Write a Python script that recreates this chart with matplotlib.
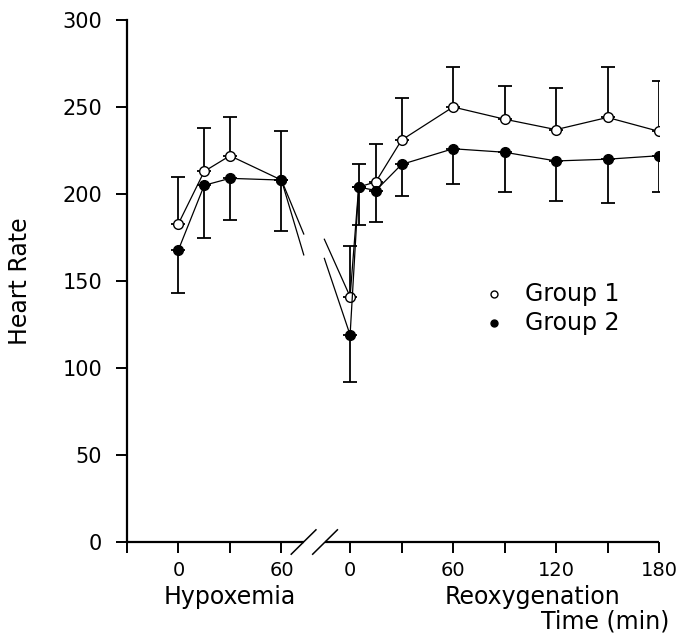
import matplotlib
matplotlib.use("Agg")
import matplotlib.pyplot as plt
import matplotlib.transforms as mtransforms

# ---- data ----
hyp_time = [0, 15, 30, 60]
g1_hyp = [183, 213, 222, 208]
g1_hyp_err = [27, 25, 22, 28]
g2_hyp = [168, 205, 209, 208]
g2_hyp_err = [25, 30, 24, 29]

reox_time = [0, 5, 15, 30, 60, 90, 120, 150, 180]
g1_reox = [141, 204, 207, 231, 250, 243, 237, 244, 236]
g1_reox_err = [29, 13, 22, 24, 23, 19, 24, 29, 29]
g2_reox = [119, 204, 202, 217, 226, 224, 219, 220, 222]
g2_reox_err = [27, 22, 18, 18, 20, 23, 23, 25, 21]

# transition stubs on either side of the axis break
stub_hyp_time = 73
stub_reox_time = -15
g1_stub = [177, 174]
g2_stub = [165, 163]

hyp_ticks = [-30, 0, 30, 60]
hyp_ticklabels = ["", "0", "", "60"]
reox_ticks = [0, 30, 60, 90, 120, 150, 180]
reox_ticklabels = ["0", "", "60", "", "120", "", "180"]
y_ticks = [0, 50, 100, 150, 200, 250, 300]

REOX_OFFSET = 100  # plot position of reoxygenation time 0

plt.rcParams['font.family'] = ['DejaVu Sans']
fig = plt.figure(figsize=(6.77, 6.4), dpi=100)
ax = fig.add_axes([0.1876, 0.1531, 0.9734 - 0.1876, 0.96875 - 0.1531])

rx = [t + REOX_OFFSET for t in reox_time]
lw = 0.9
ms = 7

# connecting stubs
ax.plot([hyp_time[-1], stub_hyp_time], [g1_hyp[-1], g1_stub[0]], color='k', lw=lw)
ax.plot([hyp_time[-1], stub_hyp_time], [g2_hyp[-1], g2_stub[0]], color='k', lw=lw)
ax.plot([stub_reox_time + REOX_OFFSET, rx[0]], [g1_stub[1], g1_reox[0]], color='k', lw=lw)
ax.plot([stub_reox_time + REOX_OFFSET, rx[0]], [g2_stub[1], g2_reox[0]], color='k', lw=lw)

# error bars (group 1 upward, group 2 downward)
ekw = dict(fmt='none', ecolor='k', elinewidth=1.3, capsize=5, capthick=1.3)
ax.errorbar(hyp_time, g1_hyp, yerr=[[0]*4, g1_hyp_err], **ekw)
ax.errorbar(hyp_time, g2_hyp, yerr=[g2_hyp_err, [0]*4], **ekw)
ax.errorbar(rx, g1_reox, yerr=[[0]*9, g1_reox_err], **ekw)
ax.errorbar(rx, g2_reox, yerr=[g2_reox_err, [0]*9], **ekw)

# lines and markers
ax.plot(hyp_time, g1_hyp, color='k', lw=lw, marker='o', ms=ms, mfc='white', mec='k', mew=1.0, zorder=3)
ax.plot(hyp_time, g2_hyp, color='k', lw=lw, marker='o', ms=ms, mfc='k', mec='k', zorder=4)
ax.plot(rx, g1_reox, color='k', lw=lw, marker='o', ms=ms, mfc='white', mec='k', mew=1.0, zorder=3)
ax.plot(rx, g2_reox, color='k', lw=lw, marker='o', ms=ms, mfc='k', mec='k', zorder=4)

ax.set_xlim(-30, 180 + REOX_OFFSET)
ax.set_ylim(0, 300)

for s in ['top', 'right', 'bottom']:
    ax.spines[s].set_visible(False)
ax.spines['left'].set_linewidth(1.6)

# broken x axis
brk1, brk2 = 72.9, 85.4
ax.plot([-30, brk1], [0, 0], color='k', lw=1.6, clip_on=False, solid_capstyle='butt')
ax.plot([brk2, 180 + REOX_OFFSET], [0, 0], color='k', lw=1.6, clip_on=False, solid_capstyle='butt')
for xb in (brk1, brk2):
    ax.plot([xb - 7.2, xb + 7.2], [-7, 7], color='k', lw=1.1, clip_on=False)

ax.set_xticks(hyp_ticks + [t + REOX_OFFSET for t in reox_ticks])
ax.set_xticklabels(hyp_ticklabels + reox_ticklabels, fontsize=14)
ax.set_yticks(y_ticks)
ax.set_yticklabels([str(v) for v in y_ticks], fontsize=15)
ax.tick_params(axis='both', direction='out', length=8, width=1.4)
ax.tick_params(axis='y', pad=10)
ax.tick_params(axis='x', pad=6)

ax.set_ylabel("Heart Rate", fontsize=17)
ax.yaxis.set_label_coords(-0.178, 0.5)

trans = mtransforms.blended_transform_factory(ax.transData, ax.transAxes)
ax.text(30, -0.105, "Hypoxemia", transform=trans, ha='center', va='center', fontsize=17)
ax.text(106 + REOX_OFFSET, -0.105, "Reoxygenation", transform=trans, ha='center', va='center', fontsize=17)
ax.text(286, -0.153, "Time (min)", transform=trans, ha='right', va='center', fontsize=17)

# legend
ax.plot([0.69], [0.475], marker='o', ms=5, mfc='white', mec='k', mew=1.0, transform=ax.transAxes, clip_on=False)
ax.plot([0.69], [0.4195], marker='o', ms=5, mfc='k', mec='k', transform=ax.transAxes, clip_on=False)
ax.text(0.748, 0.475, "Group 1", transform=ax.transAxes, ha='left', va='center', fontsize=17)
ax.text(0.748, 0.4195, "Group 2", transform=ax.transAxes, ha='left', va='center', fontsize=17)

fig.savefig("out.png", dpi=100)
